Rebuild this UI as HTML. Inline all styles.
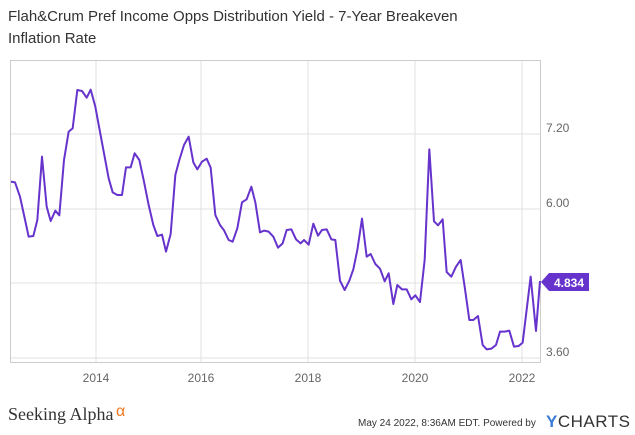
<!DOCTYPE html>
<html><head><style>
body{margin:0;width:635px;height:435px;background:#fff;font-family:"Liberation Sans",sans-serif;overflow:hidden;position:relative}
.t{position:absolute;left:8px;top:6px;font-size:15px;color:#333;line-height:22px}
</style></head><body>
<div class="t">Flah&amp;Crum Pref Income Opps Distribution Yield - 7-Year Breakeven<br>Inflation Rate</div>
<svg width="635" height="435" style="position:absolute;left:0;top:0">
<g stroke="#e0e0e0" stroke-width="1">
<line x1="10" y1="134" x2="540" y2="134"/><line x1="10" y1="209" x2="540" y2="209"/>
<line x1="10" y1="283" x2="540" y2="283"/><line x1="10" y1="358" x2="540" y2="358"/>
<line x1="96" y1="60" x2="96" y2="362"/><line x1="201" y1="60" x2="201" y2="362"/>
<line x1="308" y1="60" x2="308" y2="362"/><line x1="415" y1="60" x2="415" y2="362"/>
<line x1="522" y1="60" x2="522" y2="362"/>
</g>
<rect x="10.5" y="60.5" width="530" height="302" fill="none" stroke="#ccc"/>
<g transform="translate(0,60) scale(0.33333)" fill="none" stroke="#6633cc" stroke-width="6" stroke-linejoin="round">
<polyline points="33,365 45,367 60,410 72,465 86,530 100,528 112,480 126,290 140,440 152,483 166,452 178,466 192,300 206,215 218,205 232,90 246,93 260,113 272,89 286,140 298,205 312,280 326,355 338,397 352,405 366,405 378,322 392,322 404,280 418,300 432,365 446,435 460,495 472,528 486,524 498,575 512,522 526,345 538,300 552,255 566,230 580,307 592,328 606,305 620,296 632,323 646,465 660,495 672,511 686,540 698,545 712,505 726,427 740,418 754,380 766,427 780,517 792,512 806,515 820,530 834,563 848,550 860,510 874,508 888,538 902,550 912,540 926,554 940,491 954,527 966,510 980,508 994,538 1006,540 1020,662 1034,690 1048,662 1060,628 1072,570 1086,476 1100,590 1112,582 1126,612 1140,626 1154,664 1166,640 1180,732 1192,675 1206,688 1220,688 1234,718 1246,706 1260,726 1274,600 1288,268 1302,484 1314,496 1328,478 1340,636 1354,650 1368,620 1382,600 1394,680 1408,780 1420,780 1434,768 1448,855 1460,868 1474,866 1488,855 1500,815 1514,815 1528,812 1542,860 1556,858 1568,848 1592,650 1608,813 1620,663"/>
</g>
<g font-size="12" fill="#666">
<text x="546" y="132">7.20</text><text x="546" y="207">6.00</text><text x="546" y="356">3.60</text>
<text x="96" y="382" text-anchor="middle">2014</text><text x="201" y="382" text-anchor="middle">2016</text>
<text x="308" y="382" text-anchor="middle">2018</text><text x="415" y="382" text-anchor="middle">2020</text>
<text x="522" y="382" text-anchor="middle">2022</text>
</g>
<polygon points="541,282 549,273 589,273 589,291 549,291" fill="#6633cc"/>
<text x="569" y="287" font-size="12" font-weight="bold" fill="#fff" text-anchor="middle">4.834</text>
<text x="8" y="420" font-family="Liberation Serif,serif" font-size="18" fill="#333">Seeking Alpha</text>
<text x="116" y="416" font-size="16" fill="#f0781e">α</text>
<text x="358" y="426" font-size="10" fill="#333">May 24 2022, 8:36AM EDT.  Powered by</text>
<text x="546" y="427" font-size="17" fill="#333" letter-spacing="0.5"><tspan fill="#3a7bd5" font-weight="bold">Y</tspan>CHARTS</text>
</svg>
</body></html>
